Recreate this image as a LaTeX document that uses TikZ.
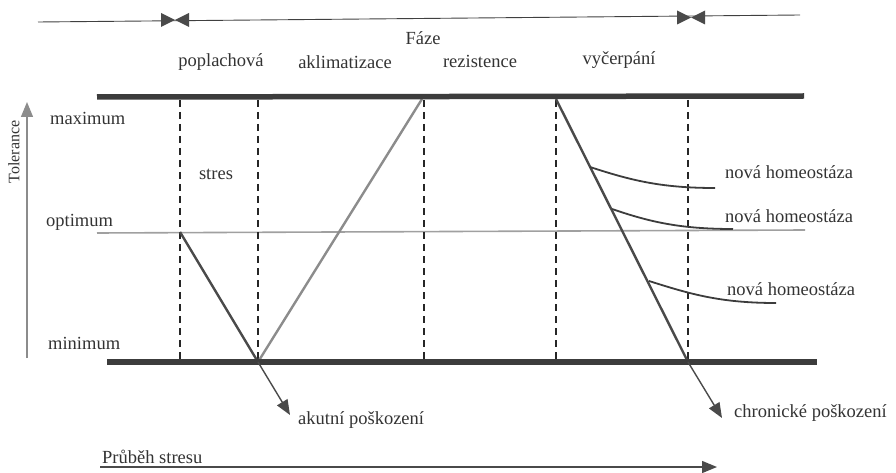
\documentclass[tikz,border=0pt]{standalone}
\usepackage{fontspec}
\setmainfont{Liberation Serif}
\usetikzlibrary{arrows.meta}
\definecolor{thick}{HTML}{3C3C3C}
\definecolor{dark}{HTML}{4A4A4A}
\definecolor{light}{HTML}{8C8C8C}
\definecolor{optim}{HTML}{A0A0A0}
\tikzset{
  lbl/.style={font=\fontsize{18.5}{20}\selectfont, text=black!80, inner sep=0pt},
  bar/.style={line width=5.5pt, draw=thick},
  guide/.style={draw=black!85, line width=1.4pt, dash pattern=on 7pt off 5pt},
  tip/.style={-{Triangle[length=15pt,width=12pt]}},
  homeo/.style={draw=thick, line width=1.8pt},
  bow/.style={fill=dark, draw=none},
}
\begin{document}
\begin{tikzpicture}[x=1pt,y=-1pt]
\useasboundingbox (0,0) rectangle (896,473);
% phase line
\coordinate (p0) at (38,22);
\coordinate (p1) at (800,15);
\draw[black!75, line width=0.9pt] (p0) -- (p1);
\fill[bow] (161,13) -- (175,20) -- (161,27) -- cycle;
\fill[bow] (189,13) -- (175,20) -- (189,27) -- cycle;
\fill[bow] (677,10.5) -- (691,17.5) -- (677,24.5) -- cycle;
\fill[bow] (705,10.5) -- (691,17.5) -- (705,24.5) -- cycle;
% phase labels
\node[lbl] (faze) at (423,38) {Fáze};
\node[lbl] (popl) at (221,62) {poplachová};
\node[lbl] (akli) at (345,62) {aklimatizace};
\node[lbl] (rezi) at (480,61) {rezistence};
\node[lbl] (vyce) at (619,60) {vyčerpání};
% max / min bars
\coordinate (maxL) at (97,97);
\coordinate (maxR) at (804,96);
\coordinate (minL) at (107,362);
\coordinate (minR) at (817,362);
\coordinate (optL) at (97,233);
\coordinate (optR) at (805,230);
\draw[draw=optim, line width=1.6pt] (optL) -- (optR);
% dashed guides
\foreach \x/\n in {180/a,258/b,424/c,556/d,688/e}{
  \coordinate (t\n) at (\x,100);
  \coordinate (b\n) at (\x,360);
  \draw[guide] (t\n) -- (b\n);
}
% Tolerance axis
\coordinate (ax0) at (27,358);
\coordinate (ax1) at (27,102);
\draw[light, line width=1.2pt, tip] (ax0) -- (ax1);
\node[lbl, font=\fontsize{16}{18}\selectfont, rotate=90] (tol) at (14,152) {Tolerance};
\node[lbl, anchor=west] (max) at (50,118) {maximum};
\node[lbl, anchor=west] (opt) at (46,222) {optimum};
\node[lbl, anchor=west] (min) at (48,343) {minimum};
\node[lbl] (stres) at (216,174) {stres};
% curve
\coordinate (o1) at (180,232);
\coordinate (v1) at (258,362);
\coordinate (m1) at (422,99);
\coordinate (m2) at (556,99);
\coordinate (v2) at (688,362);
\coordinate (ak) at (290,415);
\coordinate (ch) at (722,418);
\draw[dark, line width=2.4pt] (o1) -- (v1);
\draw[light, line width=2.4pt] (v1) -- (m1);
\draw[dark, line width=2.4pt] (m2) -- (v2);
\draw[bar] (maxL) -- (maxR);
\draw[bar] (minL) -- (minR);
\draw[dark, line width=1.4pt, tip] (v1) -- (ak);
\draw[dark, line width=1.4pt, tip] (v2) -- (ch);
\node[lbl, anchor=west] (akt) at (298,420) {akutní poškození};
\node[lbl, anchor=west] (chr) at (734,413) {chronické poškození};
% homeostasis curves
\coordinate (h1a) at (590,167);
\coordinate (h1b) at (715,188);
\coordinate (h2a) at (612,209);
\coordinate (h2b) at (733,229);
\coordinate (h3a) at (649,281);
\coordinate (h3b) at (776,303);
\draw[homeo] (h1a) .. controls (630,180) and (660,188) .. (h1b);
\draw[homeo] (h2a) .. controls (650,222) and (680,229) .. (h2b);
\draw[homeo] (h3a) .. controls (690,294) and (720,303) .. (h3b);
\node[lbl, anchor=west] (nh1) at (725,172) {nová homeostáza};
\node[lbl, anchor=west] (nh2) at (725,216) {nová homeostáza};
\node[lbl, anchor=west] (nh3) at (727,289) {nová homeostáza};
% stress course
\coordinate (s0) at (100,467);
\coordinate (s1) at (717,467);
\draw[dark, line width=1.4pt, tip] (s0) -- (s1);
\node[lbl, anchor=west] (prub) at (102,457) {Průběh stresu};
\end{tikzpicture}
\end{document}
